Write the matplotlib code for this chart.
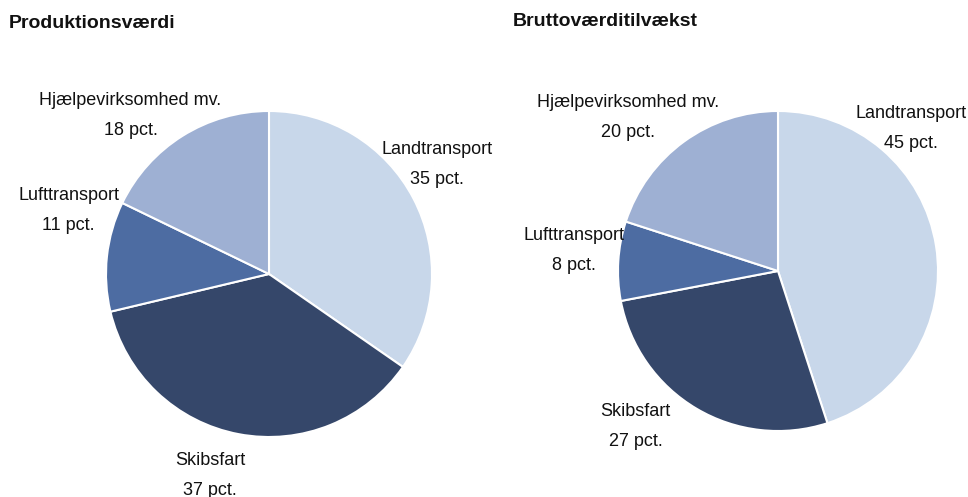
import matplotlib
matplotlib.use("Agg")
import matplotlib.pyplot as plt

categories = ["Landtransport", "Skibsfart", "Lufttransport", "Hjælpevirksomhed mv."]
prod_values = [35, 37, 11, 18]
brutto_values = [45, 27, 8, 20]
titles = ["Produktionsværdi", "Bruttoværditilvækst"]
colors = ["#c8d7ea", "#35476a", "#4d6ca2", "#9eb0d3"]

# label block centres in units of pie radius
prod_label_pos = [(1.03, 0.67), (-0.36, -1.235), (-1.23, 0.39), (-0.85, 0.97)]
brutto_label_pos = [(0.83, 0.89), (-0.89, -0.975), (-1.275, 0.13), (-0.94, 0.96)]

plt.rcParams['font.family'] = ['Liberation Sans', 'DejaVu Sans']

W, H = 968, 497
fig = plt.figure(figsize=(W / 100, H / 100), dpi=100)

def make_ax(cx, cy, r):
    return fig.add_axes([(cx - r) / W, (H - cy - r) / H, 2 * r / W, 2 * r / H])

specs = [
    (269, 274, 163, prod_values, prod_label_pos, 9, 24),
    (778, 271, 160, brutto_values, brutto_label_pos, 513, 22),
]

for i, (cx, cy, r, vals, lpos, tx, ty) in enumerate(specs):
    ax = make_ax(cx, cy, r)
    ax.pie(vals, colors=colors, startangle=90, counterclock=False,
           wedgeprops=dict(edgecolor="white", linewidth=1.5), radius=1.0)
    ax.set_xlim(-1, 1)
    ax.set_ylim(-1, 1)
    ax.set_aspect("auto")
    ax.axis("off")
    for cat, v, (lx, ly) in zip(categories, vals, lpos):
        ax.text(lx, ly, f"{cat}\n{v} pct.", ha="center", va="center",
                fontsize=13, linespacing=2.0, color="#111111", clip_on=False)
    fig.text(tx / W, 1 - ty / H, titles[i], ha="left", va="center",
             fontsize=14, fontweight="bold", color="#111111")

fig.savefig("out.png", dpi=100)
